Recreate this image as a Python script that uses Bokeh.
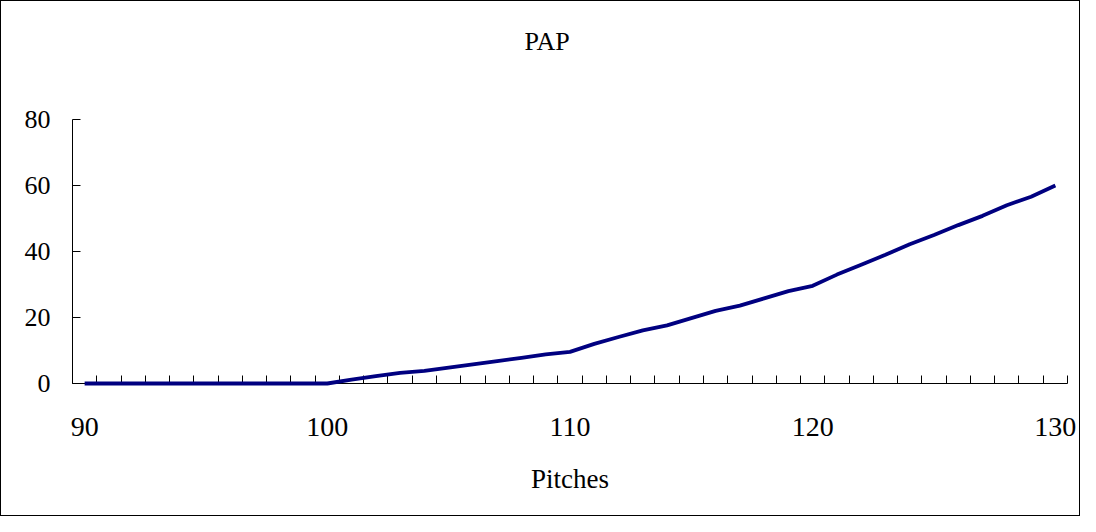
from bokeh.plotting import figure
from bokeh.models import Range1d, FixedTicker, Title
from bokeh.embed import file_html
from bokeh.resources import INLINE

pitches = list(range(90, 131))
pap = [0, 0, 0, 0, 0, 0, 0, 0, 0, 0, 0,
       1.2, 2.2, 3.2, 3.8, 4.8, 5.8, 6.8, 7.8, 8.8, 9.6,
       12.0, 14.1, 16.1, 17.6, 19.8, 22.0, 23.6, 25.8, 28.0, 29.6,
       33.0, 36.0, 39.0, 42.2, 45.0, 48.0, 50.8, 54.0, 56.6, 60.0]
x_labels = [90, 100, 110, 120, 130]
y_labels = [0, 20, 40, 60, 80]
title_text = "PAP"

FONT = "Liberation Serif"

p = figure(width=1080, height=516, output_backend="svg", toolbar_location=None,
           x_range=Range1d(89.5, 130.5), y_range=Range1d(0, 80),
           min_border_left=71, min_border_right=14,
           min_border_top=116, min_border_bottom=134,
           x_axis_label="Pitches")
p.styles = {"border": "1px solid black"}
p.outline_line_color = None
p.xgrid.visible = False
p.ygrid.visible = False
p.background_fill_color = "white"
p.border_fill_color = "white"

r = p.line(pitches, pap, line_color="#000080", line_width=3.8)
r.level = "overlay"

spacer = Title(text=" ", text_font_size="1px", standoff=38)
p.add_layout(spacer, "above")
main_title = Title(text=title_text, text_font=FONT, text_font_size="26px",
                   text_font_style="normal", text_color="black",
                   align="left", offset=452, standoff=46)
p.add_layout(main_title, "above")

xa = p.xaxis[0]
xa.ticker = FixedTicker(ticks=x_labels, minor_ticks=[89.5 + i for i in range(42)])
xa.axis_line_color = "black"
xa.major_tick_in = 0
xa.major_tick_out = 0
xa.minor_tick_in = 8
xa.minor_tick_out = 0
xa.minor_tick_line_color = "black"
xa.major_label_text_font = FONT
xa.major_label_text_font_size = "28px"
xa.major_label_text_color = "black"
xa.major_label_standoff = 34
xa.axis_label_text_font = FONT
xa.axis_label_text_font_size = "27px"
xa.axis_label_text_font_style = "normal"
xa.axis_label_text_color = "black"
xa.axis_label_standoff = 25

ya = p.yaxis[0]
ya.ticker = FixedTicker(ticks=y_labels, minor_ticks=[])
ya.axis_line_color = "black"
ya.major_tick_in = 8
ya.major_tick_out = 0
ya.major_tick_line_color = "black"
ya.minor_tick_in = 0
ya.minor_tick_out = 0
ya.major_label_text_font = FONT
ya.major_label_text_font_size = "26px"
ya.major_label_text_color = "black"
ya.major_label_standoff = 22

open("out.html", "w").write(file_html(p, INLINE))
